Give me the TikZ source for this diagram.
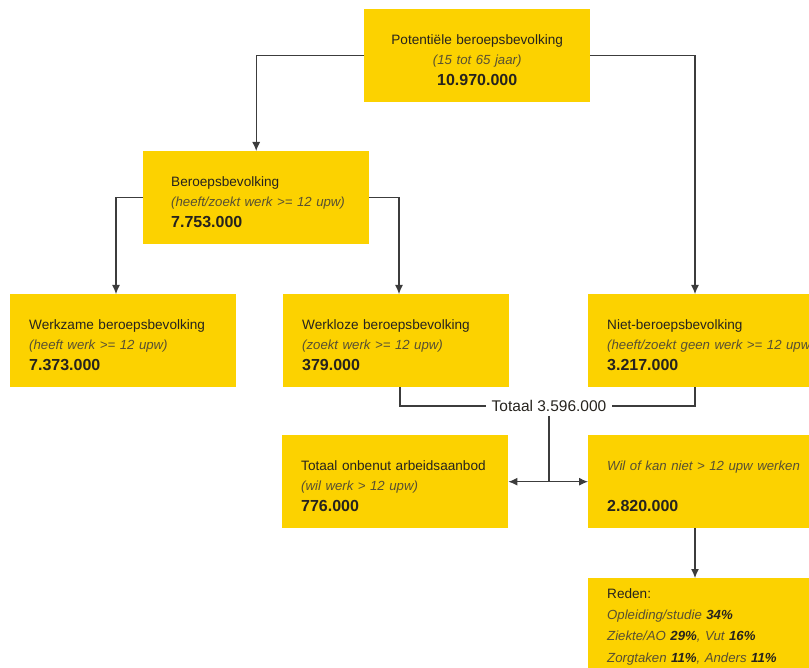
\documentclass[tikz,border=0pt]{standalone}
\usepackage{fontspec}
\setmainfont{Liberation Sans}
\usetikzlibrary{arrows.meta}
\definecolor{geel}{RGB}{252,210,0}
\definecolor{inkt}{RGB}{38,35,30}
\definecolor{toel}{RGB}{88,80,50}
\definecolor{lijn}{RGB}{60,60,60}
\newcommand{\uitleg}[1]{\mbox{\color{toel}\fontsize{13.2}{20.5}\selectfont\itshape #1}}
\newcommand{\getal}[1]{{\fontsize{16}{20.5}\selectfont\bfseries #1}}
\newcommand{\pct}[1]{\textbf{\color{inkt}#1}}
\tikzset{
  blok/.style={fill=geel, text=inkt, anchor=north west, minimum width=226pt, minimum height=93pt,
    inner xsep=19pt, inner ysep=0pt, text width=188pt, align=left,
    font=\fontsize{13.6}{20.5}\selectfont, execute at begin node=\rule{0pt}{18pt}},
  lijnstuk/.style={draw=lijn, line width=1.1pt}
}
\begin{document}
\begin{tikzpicture}[>={Latex[length=9pt,width=8pt]}, x=1pt, y=-1pt]
\useasboundingbox (0,0) rectangle (809,668);
\clip (0,0) rectangle (809,668);
\node[blok, align=center] (pot) at (364,9) {Potentiële beroepsbevolking\\ \uitleg{(15 tot 65 jaar)}\\ \getal{10.970.000}};
\node[blok, inner xsep=28pt, text width=170pt] (beroeps) at (143,151) {Beroepsbevolking\\ \uitleg{(heeft/zoekt werk >= 12 upw)}\\ \getal{7.753.000}};
\node[blok] (werkzaam) at (10,294) {Werkzame beroepsbevolking\\ \uitleg{(heeft werk >= 12 upw)}\\ \getal{7.373.000}};
\node[blok] (werkloos) at (283,294) {Werkloze beroepsbevolking\\ \uitleg{(zoekt werk >= 12 upw)}\\ \getal{379.000}};
\node[blok, text width=230pt] (niet) at (588,294) {Niet-beroepsbevolking\\ \uitleg{(heeft/zoekt geen werk >= 12 upw)}\\ \getal{3.217.000}};
\node[blok] (onbenut) at (282,435) {Totaal onbenut arbeidsaanbod\\ \uitleg{(wil werk > 12 upw)}\\ \getal{776.000}};
\node[blok, text width=230pt] (wil) at (588,435) {\uitleg{Wil of kan niet > 12 upw werken}\\ ~\\ \getal{2.820.000}};
\node[blok, text width=230pt, minimum height=0pt, inner ysep=2pt, font=\fontsize{13.6}{21.3}\selectfont] (reden) at (588,578) {Reden:\\
  \uitleg{Opleiding/studie \pct{34\%}}\\
  \uitleg{Ziekte/AO \pct{29\%}, Vut \pct{16\%}}\\
  \uitleg{Zorgtaken \pct{11\%}, Anders \pct{11\%}}\rule[-14pt]{0pt}{14pt}};
\node[text=inkt, font=\fontsize{15.5}{18}\selectfont, inner xsep=5.5pt, inner ysep=4pt] (totaal) at (549,406) {Totaal 3.596.000};
\coordinate (n1) at ([xshift=107pt]niet.north west);
\coordinate (n2) at ([xshift=107pt]niet.south west);
\coordinate (w1) at ([xshift=106pt]werkzaam.north west);
\coordinate (w2) at ([xshift=116pt]werkloos.north west);
\coordinate (w3) at ([xshift=117pt]werkloos.south west);
\draw[lijnstuk, ->] (pot.west) -| (beroeps.north);
\draw[lijnstuk, ->] (pot.east) -| (n1);
\draw[lijnstuk, ->] (beroeps.west) -| (w1);
\draw[lijnstuk, ->] (beroeps.east) -| (w2);
\draw[lijnstuk] (w3) |- (totaal.west);
\draw[lijnstuk] (n2) |- (totaal.east);
\draw[lijnstuk] (totaal.south) -- (totaal.south |- onbenut.east) coordinate (splits);
\draw[lijnstuk, ->] (splits) -- (onbenut.east);
\draw[lijnstuk, ->] (splits) -- (wil.west);
\draw[lijnstuk, ->] ([xshift=107pt]wil.south west) -- ([xshift=107pt]reden.north west);
\end{tikzpicture}
\end{document}
